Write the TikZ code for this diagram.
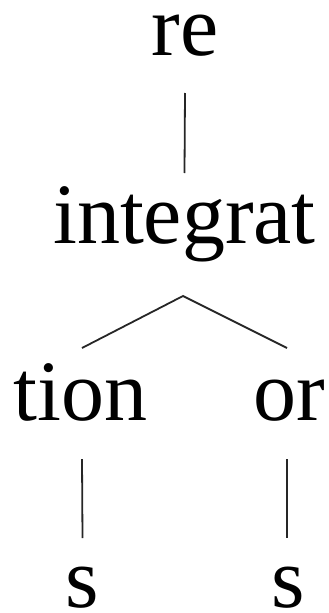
\documentclass[tikz,border=0pt]{standalone}
\usepackage{fontspec}
\setmainfont{Liberation Serif}
\begin{document}
\begin{tikzpicture}[x=1pt,y=-1pt,
  lbl/.style={anchor=base,inner sep=0pt,font=\fontsize{86}{86}\selectfont},
  edge/.style={line width=1.8pt,black!85}]
\useasboundingbox (0,0) rectangle (329,613);
\node[lbl] (re) at (185,55) {re};
\node[lbl] (integrat) at (184.5,243) {integrat};
\node[lbl] (tion) at (80.5,420) {tion};
\node[lbl] (or) at (289,420) {or};
\node[lbl] (s1) at (82.5,607) {s};
\node[lbl] (s2) at (288,607) {s};
\draw[edge] ([yshift=-38pt]re.base) -- ([yshift=70pt]integrat.base);
\draw[edge] ([xshift=1.5pt,yshift=72pt]tion.base) -- ([xshift=-1.5pt,yshift=-53pt]integrat.base) -- ([xshift=-2pt,yshift=72pt]or.base);
\draw[edge] ([xshift=1.5pt,yshift=-39pt]tion.base) -- ([yshift=69pt]s1.base);
\draw[edge] ([xshift=-2pt,yshift=-39pt]or.base) -- ([xshift=-1pt,yshift=69pt]s2.base);
\end{tikzpicture}
\end{document}
